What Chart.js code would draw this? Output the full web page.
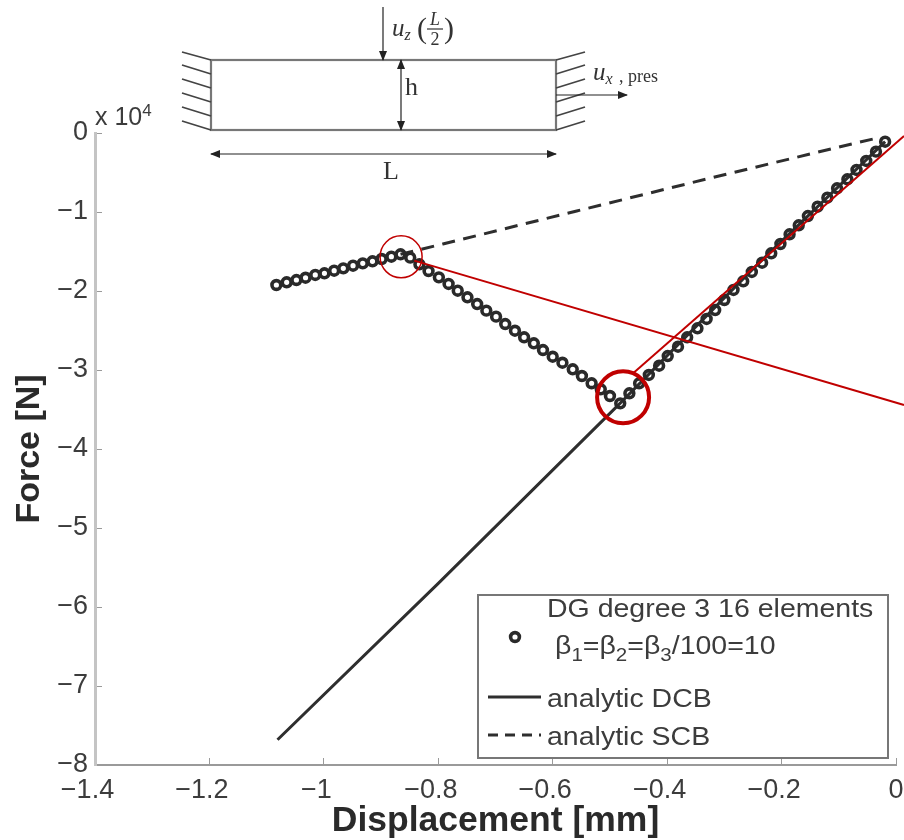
<!DOCTYPE html>
<html>
<head>
<meta charset="utf-8">
<title>Force vs displacement</title>
<script src="https://cdn.jsdelivr.net/npm/chart.js@4/dist/chart.umd.min.js"></script>
<style>
    html, body { margin: 0; background: #fff; }
    #wrap { position: relative; width: 904px; height: 840px; overflow: hidden; font-family: 'Liberation Sans', sans-serif; color: #3c3c3c; filter: blur(0.5px); }
    #wrap canvas { position: absolute; left: 0; top: 0; }
    #inset { position: absolute; left: 0; top: 0; }
    #inset text { font-family: 'Liberation Serif', serif; fill: #333; }
    #exponent { position: absolute; left: 95px; top: 102px; font-size: 25px; white-space: nowrap; }
    #exponent sup { font-size: 17px; vertical-align: 9px; line-height: 0; }
    #legend { position: absolute; left: 477px; top: 594px; width: 408px; height: 161px; border: 2px solid #777; }
    #legend div { position: absolute; font-size: 25px; line-height: 32px; white-space: nowrap; transform: scaleX(1.14); transform-origin: left center; }
    #legend sub { font-size: 18px; vertical-align: -7px; line-height: 0; }
    #legend svg { position: absolute; left: 0; top: 0; }
</style>
</head>
<body>
<div id="wrap">
    <!-- canvas runs past the wrap on purpose: the layout keeps 30px free on its right side -->
    <canvas id="forceChart" width="926" height="840"></canvas>

    <div id="exponent">x 10<sup>4</sup></div>

    <!-- beam sketch above the plot -->
    <svg id="inset" width="904" height="190">
        <defs>
            <marker id="head" markerUnits="userSpaceOnUse" markerWidth="10" markerHeight="8" refX="9" refY="4" orient="auto-start-reverse">
                <path d="M0,0 L10,4 L0,8 Z" fill="#222"></path>
            </marker>
        </defs>
        <g stroke="#777" stroke-width="2.2" fill="none">
            <rect x="211" y="60" width="345" height="70"></rect>
        </g>
        <g stroke="#444" stroke-width="1.8" fill="none">
            <path d="M182,52 L211,60 M182,65 L211,74 M182,79 L211,88 M182,93 L211,102 M182,107 L211,116 M182,121 L211,130"></path>
            <path d="M585,52 L556,60 M585,65 L556,74 M585,79 L556,88 M585,93 L556,102 M585,107 L556,116 M585,121 L556,130"></path>
        </g>
        <g stroke="#222" stroke-width="1.2" fill="none">
            <line x1="383" y1="7" x2="383" y2="60" marker-end="url(#head)"></line>
            <line x1="401" y1="60" x2="401" y2="130" marker-start="url(#head)" marker-end="url(#head)"></line>
            <line x1="211" y1="154" x2="556" y2="154" marker-start="url(#head)" marker-end="url(#head)"></line>
            <line x1="556" y1="95" x2="627" y2="95" marker-end="url(#head)"></line>
        </g>
        <text x="392" y="36" font-size="25" font-style="italic">u<tspan font-size="16" dy="4">z</tspan></text>
        <text x="417" y="38" font-size="30">(</text>
        <text x="435" y="25" font-size="18" font-style="italic" text-anchor="middle">L</text>
        <line x1="427" y1="29" x2="443" y2="29" stroke="#333" stroke-width="1.2"></line>
        <text x="435" y="45" font-size="18" text-anchor="middle">2</text>
        <text x="444" y="38" font-size="30">)</text>
        <text x="405" y="95" font-size="26">h</text>
        <text x="391" y="179" font-size="26" text-anchor="middle">L</text>
        <text x="593" y="80" font-size="25" font-style="italic">u<tspan font-size="16" dy="4">x</tspan></text>
        <text x="619" y="82" font-size="18">, pres</text>
    </svg>

    <div id="legend"></div>
</div>

<script>
// values, force in units of 1e4 N
const xTickLabels = ['\u22121.4', '\u22121.2', '\u22121', '\u22120.8', '\u22120.6', '\u22120.4', '\u22120.2', '0'];
const yTickLabels = ['\u22128', '\u22127', '\u22126', '\u22125', '\u22124', '\u22123', '\u22122', '\u22121', '0'];

const dgDisplacement = [
    -1.083, -1.065, -1.048, -1.032, -1.015, -0.999, -0.982, -0.966, -0.949, -0.932,
    -0.915, -0.899, -0.882, -0.866, -0.849, -0.833, -0.817, -0.799, -0.782, -0.766,
    -0.749, -0.732, -0.716, -0.699, -0.683, -0.666, -0.650, -0.633, -0.617, -0.600,
    -0.583, -0.565, -0.549, -0.532, -0.516, -0.500, -0.482, -0.466, -0.449, -0.432,
    -0.414, -0.399, -0.381, -0.365, -0.347, -0.331, -0.316, -0.300, -0.284, -0.267,
    -0.252, -0.234, -0.218, -0.202, -0.186, -0.170, -0.154, -0.137, -0.120, -0.103,
    -0.085, -0.069, -0.052, -0.035, -0.019
];
const dgForce = [
    -1.924, -1.890, -1.861, -1.832, -1.797, -1.776, -1.743, -1.713, -1.680, -1.650,
    -1.624, -1.595, -1.566, -1.535, -1.578, -1.662, -1.747, -1.827, -1.911, -1.996,
    -2.080, -2.165, -2.249, -2.325, -2.418, -2.503, -2.586, -2.662, -2.747, -2.832,
    -2.908, -2.991, -3.076, -3.168, -3.244, -3.329, -3.422, -3.295, -3.168, -3.063,
    -2.946, -2.823, -2.705, -2.586, -2.472, -2.354, -2.241, -2.114, -1.987, -1.877,
    -1.759, -1.642, -1.523, -1.405, -1.282, -1.168, -1.051, -0.933, -0.819, -0.700,
    -0.586, -0.468, -0.354, -0.236, -0.110
];

const dcbDisplacement = [-1.081, -0.800, -0.482, -0.250, -0.019];
const dcbForce = [-7.68, -5.70, -3.42, -1.72, -0.11];

const scbDisplacement = [-0.866, -0.792, -0.558, -0.319, -0.063, -0.028];
const scbForce = [-1.535, -1.405, -0.987, -0.561, -0.114, -0.057];

// red annotations on top of the plot
const redLineAX = [-0.842, 0.014];
const redLineAY = [-1.616, -3.443];
const redLineBX = [-0.461, 0.014];
const redLineBY = [-3.051, -0.038];
const ringSmall = { x: -0.865, y: -1.567 };
const ringBig = { x: -0.477, y: -3.345 };

const toPoints = (xs, ys) => xs.map((x, i) => ({ x: x, y: ys[i] }));

const axisColor = '#9a9a9a';
const textColor = '#3c3c3c';
const redColor = '#c00000';

const forceChart = new Chart(document.getElementById('forceChart'), {
    type: 'scatter',
    data: {
        datasets: [
            {
                label: 'DG degree 3 16 elements',
                data: toPoints(dgDisplacement, dgForce),
                showLine: false,
                pointRadius: 4.4,
                pointBorderWidth: 3.6,
                pointBackgroundColor: 'transparent',
                pointBorderColor: '#2a2a2a',
                order: 3
            },
            {
                label: 'analytic DCB',
                data: toPoints(dcbDisplacement, dcbForce),
                showLine: true,
                borderColor: '#2e2e2e',
                borderWidth: 3,
                pointRadius: 0,
                order: 4
            },
            {
                label: 'analytic SCB',
                data: toPoints(scbDisplacement, scbForce),
                showLine: true,
                borderColor: '#2e2e2e',
                borderWidth: 3,
                borderDash: [13, 8.5],
                pointRadius: 0,
                order: 5
            },
            {
                label: 'red line 1',
                data: toPoints(redLineAX, redLineAY),
                showLine: true,
                borderColor: redColor,
                borderWidth: 2,
                pointRadius: 0,
                clip: false,
                order: 1
            },
            {
                label: 'red line 2',
                data: toPoints(redLineBX, redLineBY),
                showLine: true,
                borderColor: redColor,
                borderWidth: 2,
                pointRadius: 0,
                clip: false,
                order: 1
            },
            {
                label: 'ring small',
                data: [ringSmall],
                showLine: false,
                pointRadius: 21,
                pointBorderWidth: 1.5,
                pointBackgroundColor: 'transparent',
                pointBorderColor: redColor,
                clip: false,
                order: 0
            },
            {
                label: 'ring big',
                data: [ringBig],
                showLine: false,
                pointRadius: 26,
                pointBorderWidth: 4,
                pointBackgroundColor: 'transparent',
                pointBorderColor: redColor,
                clip: false,
                order: 0
            }
        ]
    },
    options: {
        responsive: false,
        animation: false,
        layout: { padding: { left: 0, right: 8, top: 133, bottom: 0 } },
        plugins: {
            legend: { display: false },
            tooltip: { enabled: false }
        },
        scales: {
            x: {
                type: 'linear',
                min: -1.4,
                max: 0,
                afterFit: (scale) => {
                    scale.height = 75;
                    scale.paddingLeft = 0;
                    scale.paddingRight = 0;
                },
                title: {
                    display: true,
                    text: 'Displacement [mm]',
                    color: '#2a2a2a',
                    font: { family: "'Liberation Sans', sans-serif", size: 35.5, weight: 'bold' },
                    padding: { top: 0, bottom: -3 }
                },
                border: { color: axisColor, width: 2 },
                grid: { drawOnChartArea: false, color: axisColor, tickLength: -7 },
                ticks: {
                    stepSize: 0.2,
                    maxRotation: 0,
                    autoSkip: false,
                    color: textColor,
                    padding: 16,
                    font: { family: "'Liberation Sans', sans-serif", size: 27 },
                    // trailing spaces keep the digits, not the minus sign, under the tick
                    callback: (value, index) => xTickLabels[index] + (index < xTickLabels.length - 1 ? '\u00a0\u00a0' : '')
                }
            },
            y: {
                type: 'linear',
                min: -8,
                max: 0,
                afterFit: (scale) => {
                    scale.width = 95;
                    scale.paddingTop = 0;
                    scale.paddingBottom = 0;
                },
                title: {
                    display: true,
                    text: 'Force [N]',
                    color: '#2a2a2a',
                    font: { family: "'Liberation Sans', sans-serif", size: 34, weight: 'bold' },
                    padding: { top: 9, bottom: 0 }
                },
                border: { color: '#c4c4c4', width: 3 },
                grid: { drawOnChartArea: false, color: axisColor, tickLength: -7 },
                ticks: {
                    stepSize: 1,
                    autoSkip: false,
                    color: textColor,
                    padding: 14,
                    font: { family: "'Liberation Sans', sans-serif", size: 27 },
                    callback: (value, index) => yTickLabels[index]
                }
            }
        }
    }
});

// legend is plain html because of the subscripts and the two line label
const legendBox = document.getElementById('legend');
legendBox.innerHTML =
    '<svg width="408" height="161">' +
        '<circle cx="36" cy="41" r="4.4" fill="none" stroke="#2a2a2a" stroke-width="3.6"></circle>' +
        '<line x1="9" y1="101" x2="62" y2="101" stroke="#2e2e2e" stroke-width="3"></line>' +
        '<line x1="9" y1="139" x2="62" y2="139" stroke="#2e2e2e" stroke-width="3" stroke-dasharray="10 7"></line>' +
    '</svg>' +
    '<div style="left:68px;top:-4px">DG degree 3 16 elements</div>' +
    '<div style="left:76px;top:33px">\u03b2<sub>1</sub>=\u03b2<sub>2</sub>=\u03b2<sub>3</sub>/100=10</div>' +
    '<div style="left:68px;top:86px">analytic DCB</div>' +
    '<div style="left:68px;top:124px">analytic SCB</div>';
</script>
</body>
</html>
